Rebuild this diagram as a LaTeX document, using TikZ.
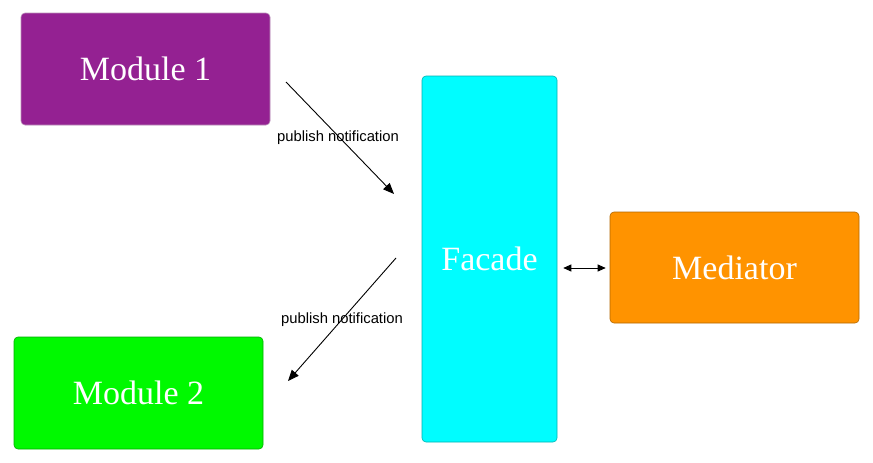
\documentclass[tikz,border=0pt]{standalone}
\usepackage{fontspec}
\newfontfamily\labelfont{Liberation Sans}
\newfontfamily\boxfont{Liberation Serif}
\usetikzlibrary{arrows.meta}
\definecolor{plum}{HTML}{942192}
\definecolor{turq}{HTML}{00FDFF}
\definecolor{tang}{HTML}{FF9300}
\definecolor{lime}{HTML}{00F900}
\tikzset{
  box/.style={rounded corners=4pt, line width=0.6pt, inner sep=0pt, text=white,
    font=\boxfont\fontsize{34}{38}\selectfont},
  conn/.style={line width=0.9pt, -{Triangle[length=11pt,width=9pt]}},
  lbl/.style={font=\labelfont\fontsize{14.8}{16}\selectfont, text=black}
}
\begin{document}
\begin{tikzpicture}[x=1pt,y=-1pt]
\useasboundingbox (0,0) rectangle (873,463);
\node[box, fill=plum, draw=plum!60!gray!60, minimum width=249pt, minimum height=112pt] (m1) at (145.5,69) {Module 1};
\node[box, fill=turq, draw=turq!70!black, minimum width=135pt, minimum height=366pt] (fac) at (489.5,259) {};
\node[text=white, font=\boxfont\fontsize{34}{38}\selectfont, inner sep=0pt] (factxt) at (489.5,259) {Facade};
\node[box, fill=tang, draw=tang!70!black, minimum width=249pt, minimum height=111pt] (med) at (734.5,267.5) {Mediator};
\node[box, fill=lime, draw=lime!70!black, minimum width=249pt, minimum height=112pt] (m2) at (138.5,393) {Module 2};
\coordinate (a1s) at (286,82);
\coordinate (a1e) at (394,194);
\coordinate (a2s) at (396,258);
\coordinate (a2e) at (288,381);
\draw[conn] (a1s) -- node[lbl, midway, xshift=-2pt] (l1) {publish notification} (a1e);
\draw[conn] (a2s) -- node[lbl, midway] (l2) {publish notification} (a2e);
\draw[line width=0.9pt, {Triangle[length=8pt,width=7pt]}-{Triangle[length=8pt,width=7pt]}] ([xshift=6pt]fac.east |- 0,268) coordinate (d1) -- ([xshift=-4pt]med.west |- 0,268) coordinate (d2);
\end{tikzpicture}
\end{document}
